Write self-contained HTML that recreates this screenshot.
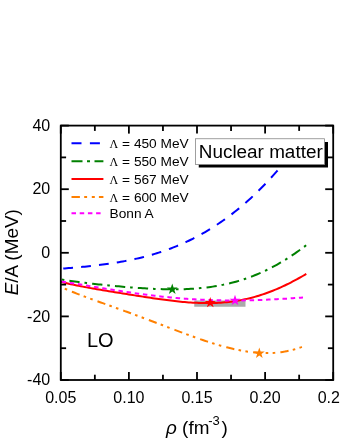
<!DOCTYPE html>
<html><head><meta charset="utf-8"><style>
html,body{margin:0;padding:0;background:#fff;}
body{width:340px;height:440px;overflow:hidden;}
svg{display:block;will-change:transform;font-family:"Liberation Sans",sans-serif;}
</style></head><body>
<svg width="340" height="440" viewBox="0 0 340 440">
<rect width="340" height="440" fill="#fff"/>
<rect x="194.25" y="300.5" width="51.25" height="6.25" fill="#aaaaaa"/>
<g fill="none" stroke-width="2">
<path d="M60.75,268.81 L62.75,268.64 L64.75,268.47 L66.75,268.29 L68.75,268.12 L70.75,267.94 L72.75,267.76 L74.75,267.58 L76.75,267.40 L78.75,267.21 L80.75,267.02 L82.75,266.83 L84.75,266.63 L86.75,266.43 L88.75,266.22 L90.75,266.01 L92.75,265.79 L94.75,265.56 L96.75,265.33 L98.75,265.09 L100.75,264.84 L102.75,264.58 L104.75,264.32 L106.75,264.05 L108.75,263.76 L110.75,263.47 L112.75,263.17 L114.75,262.86 L116.75,262.54 L118.75,262.20 L120.75,261.86 L122.75,261.50 L124.75,261.13 L126.75,260.75 L128.75,260.36 L130.75,259.95 L132.75,259.53 L134.75,259.09 L136.75,258.64 L138.75,258.18 L140.75,257.70 L142.75,257.20 L144.75,256.69 L146.75,256.17 L148.75,255.62 L150.75,255.06 L152.75,254.49 L154.75,253.89 L156.75,253.28 L158.75,252.64 L160.75,251.99 L162.75,251.33 L164.75,250.64 L166.75,249.93 L168.75,249.20 L170.75,248.45 L172.75,247.68 L174.75,246.89 L176.75,246.08 L178.75,245.25 L180.75,244.39 L182.75,243.51 L184.75,242.61 L186.75,241.69 L188.75,240.74 L190.75,239.77 L192.75,238.78 L194.75,237.76 L196.75,236.72 L198.75,235.65 L200.75,234.56 L202.75,233.44 L204.75,232.29 L206.75,231.12 L208.75,229.93 L210.75,228.70 L212.75,227.45 L214.75,226.17 L216.75,224.87 L218.75,223.54 L220.75,222.17 L222.75,220.78 L224.75,219.36 L226.75,217.92 L228.75,216.44 L230.75,214.93 L232.75,213.39 L234.75,211.82 L236.75,210.23 L238.75,208.60 L240.75,206.94 L242.75,205.25 L244.75,203.52 L246.75,201.77 L248.75,199.98 L250.75,198.16 L252.75,196.31 L254.75,194.42 L256.75,192.50 L258.75,190.55 L260.75,188.56 L262.75,186.54 L264.75,184.49 L266.75,182.40 L268.75,180.28 L270.75,178.12 L272.75,175.92 L274.75,173.69 L276.75,171.43 L278.75,169.12 L280.75,166.79 L282.75,164.41 L284.75,162.00 L286.75,159.55 L288.75,157.06 L290.75,154.54 L292.00,152.94" stroke="#0000ff" stroke-dasharray="9.8 8.17" stroke-dashoffset="15.47"/>
<path d="M60.75,279.34 L62.75,279.67 L64.75,280.00 L66.75,280.31 L68.75,280.62 L70.75,280.91 L72.75,281.20 L74.75,281.48 L76.75,281.75 L78.75,282.02 L80.75,282.28 L82.75,282.53 L84.75,282.78 L86.75,283.03 L88.75,283.26 L90.75,283.50 L92.75,283.73 L94.75,283.95 L96.75,284.17 L98.75,284.39 L100.75,284.60 L102.75,284.81 L104.75,285.02 L106.75,285.22 L108.75,285.42 L110.75,285.62 L112.75,285.81 L114.75,286.00 L116.75,286.18 L118.75,286.37 L120.75,286.54 L122.75,286.72 L124.75,286.89 L126.75,287.06 L128.75,287.22 L130.75,287.38 L132.75,287.53 L134.75,287.68 L136.75,287.83 L138.75,287.97 L140.75,288.11 L142.75,288.24 L144.75,288.36 L146.75,288.48 L148.75,288.59 L150.75,288.70 L152.75,288.79 L154.75,288.89 L156.75,288.97 L158.75,289.04 L160.75,289.11 L162.75,289.17 L164.75,289.22 L166.75,289.26 L168.75,289.29 L170.75,289.31 L172.75,289.32 L174.75,289.32 L176.75,289.31 L178.75,289.28 L180.75,289.25 L182.75,289.20 L184.75,289.13 L186.75,289.06 L188.75,288.97 L190.75,288.86 L192.75,288.74 L194.75,288.61 L196.75,288.46 L198.75,288.29 L200.75,288.11 L202.75,287.91 L204.75,287.69 L206.75,287.45 L208.75,287.20 L210.75,286.92 L212.75,286.63 L214.75,286.32 L216.75,285.98 L218.75,285.63 L220.75,285.26 L222.75,284.86 L224.75,284.44 L226.75,284.00 L228.75,283.54 L230.75,283.05 L232.75,282.54 L234.75,282.01 L236.75,281.45 L238.75,280.87 L240.75,280.26 L242.75,279.63 L244.75,278.97 L246.75,278.29 L248.75,277.58 L250.75,276.85 L252.75,276.08 L254.75,275.29 L256.75,274.48 L258.75,273.63 L260.75,272.76 L262.75,271.86 L264.75,270.93 L266.75,269.98 L268.75,268.99 L270.75,267.98 L272.75,266.94 L274.75,265.87 L276.75,264.77 L278.75,263.64 L280.75,262.48 L282.75,261.30 L284.75,260.08 L286.75,258.84 L288.75,257.56 L290.75,256.26 L292.75,254.93 L294.75,253.57 L296.75,252.18 L298.75,250.77 L300.75,249.32 L302.75,247.85 L304.75,246.35 L306.50,245.01" stroke="#008000" stroke-dasharray="10.3 4.9 2.6 5.14" stroke-dashoffset="14.18"/>
<path d="M60.75,286.96 L62.75,287.83 L64.75,288.69 L66.75,289.53 L68.75,290.36 L70.75,291.18 L72.75,291.98 L74.75,292.77 L76.75,293.56 L78.75,294.33 L80.75,295.10 L82.75,295.85 L84.75,296.61 L86.75,297.35 L88.75,298.09 L90.75,298.82 L92.75,299.56 L94.75,300.28 L96.75,301.01 L98.75,301.73 L100.75,302.45 L102.75,303.17 L104.75,303.88 L106.75,304.60 L108.75,305.32 L110.75,306.04 L112.75,306.75 L114.75,307.47 L116.75,308.19 L118.75,308.91 L120.75,309.63 L122.75,310.36 L124.75,311.08 L126.75,311.81 L128.75,312.54 L130.75,313.27 L132.75,314.01 L134.75,314.74 L136.75,315.48 L138.75,316.23 L140.75,316.97 L142.75,317.72 L144.75,318.46 L146.75,319.21 L148.75,319.97 L150.75,320.72 L152.75,321.48 L154.75,322.24 L156.75,322.99 L158.75,323.75 L160.75,324.51 L162.75,325.28 L164.75,326.04 L166.75,326.80 L168.75,327.56 L170.75,328.32 L172.75,329.08 L174.75,329.83 L176.75,330.59 L178.75,331.34 L180.75,332.09 L182.75,332.84 L184.75,333.58 L186.75,334.32 L188.75,335.05 L190.75,335.78 L192.75,336.51 L194.75,337.22 L196.75,337.93 L198.75,338.64 L200.75,339.33 L202.75,340.01 L204.75,340.69 L206.75,341.36 L208.75,342.01 L210.75,342.66 L212.75,343.29 L214.75,343.91 L216.75,344.51 L218.75,345.11 L220.75,345.68 L222.75,346.25 L224.75,346.79 L226.75,347.32 L228.75,347.83 L230.75,348.32 L232.75,348.80 L234.75,349.25 L236.75,349.68 L238.75,350.09 L240.75,350.48 L242.75,350.84 L244.75,351.18 L246.75,351.50 L248.75,351.79 L250.75,352.05 L252.75,352.28 L254.75,352.49 L256.75,352.67 L258.75,352.81 L260.75,352.93 L262.75,353.01 L264.75,353.07 L266.75,353.08 L268.75,353.07 L270.75,353.01 L272.75,352.92 L274.75,352.80 L276.75,352.63 L278.75,352.43 L280.75,352.19 L282.75,351.90 L284.75,351.58 L286.75,351.21 L288.75,350.80 L290.75,350.34 L292.75,349.84 L294.75,349.29 L296.75,348.69 L298.75,348.05 L300.75,347.36 L302.75,346.61 L304.20,346.04" stroke="#ff8000" stroke-dasharray="8.3 4.3 2.6 4.4 2.6 5.15" stroke-dashoffset="15.26"/>
<path d="M60.75,281.75 L62.75,282.27 L64.75,282.77 L66.75,283.26 L68.75,283.72 L70.75,284.18 L72.75,284.61 L74.75,285.04 L76.75,285.45 L78.75,285.86 L80.75,286.25 L82.75,286.64 L84.75,287.01 L86.75,287.38 L88.75,287.75 L90.75,288.11 L92.75,288.46 L94.75,288.81 L96.75,289.15 L98.75,289.49 L100.75,289.83 L102.75,290.17 L104.75,290.50 L106.75,290.83 L108.75,291.16 L110.75,291.49 L112.75,291.82 L114.75,292.14 L116.75,292.47 L118.75,292.80 L120.75,293.12 L122.75,293.44 L124.75,293.77 L126.75,294.09 L128.75,294.41 L130.75,294.73 L132.75,295.05 L134.75,295.37 L136.75,295.69 L138.75,296.01 L140.75,296.32 L142.75,296.63 L144.75,296.95 L146.75,297.25 L148.75,297.56 L150.75,297.86 L152.75,298.16 L154.75,298.45 L156.75,298.74 L158.75,299.03 L160.75,299.31 L162.75,299.58 L164.75,299.85 L166.75,300.11 L168.75,300.36 L170.75,300.61 L172.75,300.85 L174.75,301.07 L176.75,301.29 L178.75,301.50 L180.75,301.70 L182.75,301.89 L184.75,302.07 L186.75,302.23 L188.75,302.39 L190.75,302.53 L192.75,302.65 L194.75,302.76 L196.75,302.86 L198.75,302.94 L200.75,303.01 L202.75,303.05 L204.75,303.08 L206.75,303.10 L208.75,303.09 L210.75,303.07 L212.75,303.03 L214.75,302.96 L216.75,302.88 L218.75,302.78 L220.75,302.65 L222.75,302.50 L224.75,302.33 L226.75,302.14 L228.75,301.93 L230.75,301.69 L232.75,301.42 L234.75,301.14 L236.75,300.83 L238.75,300.49 L240.75,300.13 L242.75,299.74 L244.75,299.33 L246.75,298.89 L248.75,298.42 L250.75,297.93 L252.75,297.41 L254.75,296.87 L256.75,296.29 L258.75,295.69 L260.75,295.07 L262.75,294.41 L264.75,293.73 L266.75,293.03 L268.75,292.29 L270.75,291.53 L272.75,290.75 L274.75,289.93 L276.75,289.09 L278.75,288.23 L280.75,287.34 L282.75,286.42 L284.75,285.48 L286.75,284.52 L288.75,283.53 L290.75,282.52 L292.75,281.48 L294.75,280.43 L296.75,279.35 L298.75,278.25 L300.75,277.14 L302.75,276.00 L304.75,274.84 L306.30,273.94" stroke="#ff0000"/>
<path d="M60.75,281.38 L62.75,281.69 L64.75,282.00 L66.75,282.32 L68.75,282.64 L70.75,282.96 L72.75,283.28 L74.75,283.61 L76.75,283.93 L78.75,284.26 L80.75,284.59 L82.75,284.92 L84.75,285.25 L86.75,285.59 L88.75,285.92 L90.75,286.25 L92.75,286.58 L94.75,286.91 L96.75,287.24 L98.75,287.57 L100.75,287.90 L102.75,288.23 L104.75,288.55 L106.75,288.88 L108.75,289.20 L110.75,289.52 L112.75,289.84 L114.75,290.15 L116.75,290.47 L118.75,290.78 L120.75,291.08 L122.75,291.39 L124.75,291.69 L126.75,291.99 L128.75,292.28 L130.75,292.57 L132.75,292.86 L134.75,293.15 L136.75,293.42 L138.75,293.70 L140.75,293.97 L142.75,294.24 L144.75,294.50 L146.75,294.76 L148.75,295.01 L150.75,295.26 L152.75,295.50 L154.75,295.74 L156.75,295.97 L158.75,296.20 L160.75,296.42 L162.75,296.64 L164.75,296.85 L166.75,297.05 L168.75,297.25 L170.75,297.45 L172.75,297.64 L174.75,297.82 L176.75,298.00 L178.75,298.17 L180.75,298.33 L182.75,298.49 L184.75,298.65 L186.75,298.79 L188.75,298.93 L190.75,299.07 L192.75,299.20 L194.75,299.32 L196.75,299.43 L198.75,299.54 L200.75,299.65 L202.75,299.75 L204.75,299.84 L206.75,299.92 L208.75,300.00 L210.75,300.07 L212.75,300.14 L214.75,300.20 L216.75,300.25 L218.75,300.30 L220.75,300.34 L222.75,300.37 L224.75,300.40 L226.75,300.43 L228.75,300.44 L230.75,300.45 L232.75,300.46 L234.75,300.46 L236.75,300.45 L238.75,300.44 L240.75,300.42 L242.75,300.39 L244.75,300.36 L246.75,300.33 L248.75,300.29 L250.75,300.24 L252.75,300.19 L254.75,300.14 L256.75,300.08 L258.75,300.01 L260.75,299.94 L262.75,299.86 L264.75,299.78 L266.75,299.70 L268.75,299.61 L270.75,299.51 L272.75,299.42 L274.75,299.31 L276.75,299.21 L278.75,299.10 L280.75,298.99 L282.75,298.87 L284.75,298.75 L286.75,298.63 L288.75,298.50 L290.75,298.37 L292.75,298.24 L294.75,298.10 L296.75,297.97 L298.75,297.83 L300.75,297.69 L302.75,297.54 L303.00,297.53" stroke="#ff00ff" stroke-dasharray="4.5 3.73" stroke-dashoffset="7.38"/>
</g>
<polygon points="172.25,283.60 173.57,287.48 177.67,287.54 174.39,290.00 175.60,293.91 172.25,291.55 168.90,293.91 170.11,290.00 166.83,287.54 170.93,287.48" fill="#008000"/>
<polygon points="210.25,297.05 211.57,300.93 215.67,300.99 212.39,303.45 213.60,307.36 210.25,305.00 206.90,307.36 208.11,303.45 204.83,300.99 208.93,300.93" fill="#ff0000"/>
<polygon points="235.00,294.80 236.32,298.68 240.42,298.74 237.14,301.20 238.35,305.11 235.00,302.75 231.65,305.11 232.86,301.20 229.58,298.74 233.68,298.68" fill="#ff00ff"/>
<polygon points="259.30,347.60 260.62,351.48 264.72,351.54 261.44,354.00 262.65,357.91 259.30,355.55 255.95,357.91 257.16,354.00 253.88,351.54 257.98,351.48" fill="#ff8000"/>
<g stroke="#000" stroke-width="1.8"><line x1="60.80" y1="125.60" x2="60.80" y2="133.60"/><line x1="60.80" y1="380.00" x2="60.80" y2="372.00"/><line x1="94.85" y1="125.60" x2="94.85" y2="130.90"/><line x1="94.85" y1="380.00" x2="94.85" y2="374.70"/><line x1="128.90" y1="125.60" x2="128.90" y2="133.60"/><line x1="128.90" y1="380.00" x2="128.90" y2="372.00"/><line x1="162.95" y1="125.60" x2="162.95" y2="130.90"/><line x1="162.95" y1="380.00" x2="162.95" y2="374.70"/><line x1="197.00" y1="125.60" x2="197.00" y2="133.60"/><line x1="197.00" y1="380.00" x2="197.00" y2="372.00"/><line x1="231.05" y1="125.60" x2="231.05" y2="130.90"/><line x1="231.05" y1="380.00" x2="231.05" y2="374.70"/><line x1="265.10" y1="125.60" x2="265.10" y2="133.60"/><line x1="265.10" y1="380.00" x2="265.10" y2="372.00"/><line x1="299.15" y1="125.60" x2="299.15" y2="130.90"/><line x1="299.15" y1="380.00" x2="299.15" y2="374.70"/><line x1="333.20" y1="125.60" x2="333.20" y2="133.60"/><line x1="333.20" y1="380.00" x2="333.20" y2="372.00"/><line x1="60.80" y1="380.00" x2="68.80" y2="380.00"/><line x1="333.20" y1="380.00" x2="325.20" y2="380.00"/><line x1="60.80" y1="348.20" x2="66.10" y2="348.20"/><line x1="333.20" y1="348.20" x2="327.90" y2="348.20"/><line x1="60.80" y1="316.40" x2="68.80" y2="316.40"/><line x1="333.20" y1="316.40" x2="325.20" y2="316.40"/><line x1="60.80" y1="284.60" x2="66.10" y2="284.60"/><line x1="333.20" y1="284.60" x2="327.90" y2="284.60"/><line x1="60.80" y1="252.80" x2="68.80" y2="252.80"/><line x1="333.20" y1="252.80" x2="325.20" y2="252.80"/><line x1="60.80" y1="221.00" x2="66.10" y2="221.00"/><line x1="333.20" y1="221.00" x2="327.90" y2="221.00"/><line x1="60.80" y1="189.20" x2="68.80" y2="189.20"/><line x1="333.20" y1="189.20" x2="325.20" y2="189.20"/><line x1="60.80" y1="157.40" x2="66.10" y2="157.40"/><line x1="333.20" y1="157.40" x2="327.90" y2="157.40"/><line x1="60.80" y1="125.60" x2="68.80" y2="125.60"/><line x1="333.20" y1="125.60" x2="325.20" y2="125.60"/></g>
<rect x="60.8" y="125.6" width="272.4" height="254.4" fill="none" stroke="#000" stroke-width="1.8"/>
<g font-size="16px" fill="#000"><text x="60.80" y="403.2" text-anchor="middle">0.05</text><text x="128.90" y="403.2" text-anchor="middle">0.10</text><text x="197.00" y="403.2" text-anchor="middle">0.15</text><text x="265.10" y="403.2" text-anchor="middle">0.20</text><text x="333.20" y="403.2" text-anchor="middle">0.25</text><text x="50.2" y="130.85" text-anchor="end">40</text><text x="50.2" y="194.45" text-anchor="end">20</text><text x="50.2" y="258.05" text-anchor="end">0</text><text x="50.2" y="321.65" text-anchor="end">-20</text><text x="50.2" y="385.25" text-anchor="end">-40</text></g>
<!-- legend -->
<g fill="none" stroke-width="2">
<line x1="71.5" y1="143.3" x2="103.4" y2="143.3" stroke="#0000ff" stroke-dasharray="10 8.4"/>
<line x1="71.5" y1="161.3" x2="103.4" y2="161.3" stroke="#008000" stroke-dasharray="11 4.5 3 4.5"/>
<line x1="71.5" y1="179.1" x2="103.4" y2="179.1" stroke="#ff0000"/>
<line x1="71.5" y1="197" x2="103.4" y2="197" stroke="#ff8000" stroke-dasharray="8.4 4.3 2.9 4.7 3 4.1"/>
<line x1="71.5" y1="213.2" x2="101" y2="213.2" stroke="#ff00ff" stroke-dasharray="4.5 3.7"/>
</g>
<g font-size="13.7px" fill="#000">
<text x="109.6" y="147.6"><tspan font-family="Liberation Serif" font-size="12px">Λ</tspan> = 450 MeV</text>
<text x="109.6" y="165.6"><tspan font-family="Liberation Serif" font-size="12px">Λ</tspan> = 550 MeV</text>
<text x="109.6" y="183.9"><tspan font-family="Liberation Serif" font-size="12px">Λ</tspan> = 567 MeV</text>
<text x="109.6" y="201.7"><tspan font-family="Liberation Serif" font-size="12px">Λ</tspan> = 600 MeV</text>
<text x="109.6" y="218">Bonn A</text>
</g>
<!-- box -->
<rect x="198.75" y="142" width="129.25" height="25.5" fill="#000"/>
<rect x="195.5" y="138.75" width="129" height="25.75" fill="#fff" stroke="#888" stroke-width="0.8"/>
<text x="260.75" y="157.5" text-anchor="middle" font-size="18.9px" fill="#000">Nuclear matter</text>
<text x="87" y="347.2" font-size="20px" fill="#000">LO</text>
<text transform="translate(17.6,252.25) rotate(-90)" text-anchor="middle" font-size="18.9px" fill="#000"><tspan font-style="italic">E</tspan>/A (MeV)</text>
<g font-size="18.9px" fill="#000">
<text x="166.1" y="433.5" font-style="italic">ρ</text>
<text x="182.1" y="433.5">(fm</text>
<text x="208.2" y="424.8" font-size="13px">-3</text>
<text x="221.6" y="433.5">)</text>
</g>
</svg>
</body></html>
